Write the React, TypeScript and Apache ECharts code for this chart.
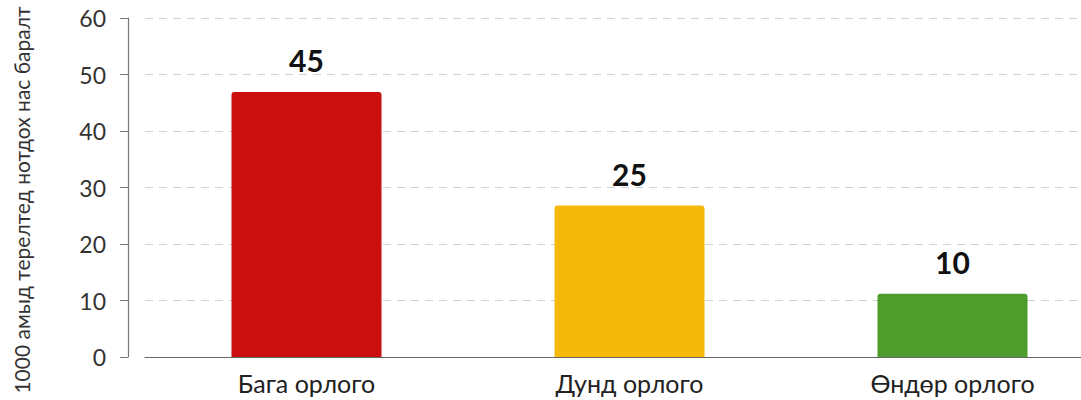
import React, { useEffect, useRef } from "react";
import * as echarts from "echarts";

const categories = ["Бага орлого", "Дунд орлого", "Өндөр орлого"];
const barHeights = [46.9, 26.8, 11.2];
const barLabels = ["45", "25", "10"];
const barColors = ["#CB0E0E", "#F5B90A", "#4E9C2B"];
const yTicks = { min: 0, max: 60, interval: 10 };
const yName = "1000 амыд терелтед нотдох нас баралт";

const FONT = "Lato, 'Open Sans', 'Noto Sans', sans-serif";

export default function App() {
  const ref = useRef<HTMLDivElement>(null);
  useEffect(() => {
    if (!ref.current) return;
    const chart = echarts.init(ref.current, null, { renderer: "svg" });
    chart.setOption({
      animation: false,
      backgroundColor: "#ffffff",
      grid: { left: 145, right: 0, top: 18, bottom: 43, containLabel: false },
      graphic: [
        {
          type: "text",
          x: 21,
          y: 200,
          rotation: Math.PI / 2,
          style: {
            text: yName,
            fill: "#333",
            fontSize: 21,
            fontFamily: FONT,
            align: "center",
            verticalAlign: "middle",
          },
        },
      ],
      xAxis: {
        type: "category",
        data: categories,
        axisLine: { lineStyle: { color: "#666", width: 1.2 } },
        axisTick: { show: false },
        axisLabel: { color: "#222", fontSize: 25, fontFamily: FONT, margin: 13 },
      },
      yAxis: {
        type: "value",
        min: yTicks.min,
        max: yTicks.max,
        interval: yTicks.interval,
        offset: 17,
        axisLine: { show: true, lineStyle: { color: "#777", width: 1.2 } },
        axisTick: { show: true, length: 8, lineStyle: { color: "#777" } },
        axisLabel: { color: "#333", fontSize: 23, fontFamily: FONT, margin: 22 },
        splitLine: { show: true, lineStyle: { color: "#d0d0d0", type: [8, 6], width: 1.2 } },
      },
      series: [
        {
          type: "bar",
          barWidth: 150,
          data: barHeights.map((v, i) => ({
            value: v,
            itemStyle: { color: barColors[i], borderRadius: [3, 3, 0, 0] },
            label: { formatter: barLabels[i] },
          })),
          label: {
            show: true,
            position: "top",
            distance: 17,
            color: "#111",
            fontSize: 30,
            fontWeight: "bold",
            fontFamily: FONT,
          },
        },
      ],
    });
    return () => chart.dispose();
  }, []);
  return (
    <div
      ref={ref}
      style={{ position: "fixed", left: 0, top: 0, width: 1114, height: 400 }}
    />
  );
}
